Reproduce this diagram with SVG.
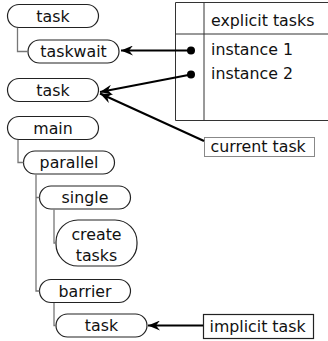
<svg xmlns="http://www.w3.org/2000/svg" width="328" height="341" viewBox="0 0 328 341">
<style>
text{font-family:"DejaVu Sans",sans-serif;font-size:15.8px;fill:#111}
.n{fill:#fff;stroke:#222;stroke-width:1.2}
.t{text-anchor:middle}
.tree{fill:none;stroke:#777;stroke-width:1.3}
.arr{fill:none;stroke:#000;stroke-width:2}
.tbl{fill:none;stroke:#333;stroke-width:1}
</style>
<defs>
<marker id="ah" viewBox="0 0 12 10" refX="12" refY="5" markerWidth="12" markerHeight="10" markerUnits="userSpaceOnUse" orient="auto">
<path d="M12,5 L0,0 L4,5 L0,10 Z" fill="#000"/>
</marker>
</defs>
<g id="table">
<path class="tbl" d="M328,2.5 H175.5 V120.5 H328" stroke="#555"/>
<path class="tbl" d="M175.5,34 H328 M204,2.5 V120.5" stroke="#666"/>
<text x="211" y="26">explicit tasks</text>
<text x="211" y="55">instance 1</text>
<text x="211" y="79">instance 2</text>
</g>
<g id="task1"><rect class="n" x="7.5" y="4.5" width="91" height="23" rx="11.5"/><text class="t" x="53" y="21.5">task</text></g>
<g id="taskwait"><rect class="n" x="28" y="40" width="91" height="23" rx="11.5"/><text class="t" x="73.5" y="57">taskwait</text></g>
<g id="task2"><rect class="n" x="7.5" y="78.5" width="91" height="23" rx="11.5"/><text class="t" x="53" y="95.5">task</text></g>
<g id="main"><rect class="n" x="7.5" y="116.5" width="91" height="23" rx="11.5"/><text class="t" x="53" y="133.5">main</text></g>
<g id="parallel"><rect class="n" x="23.5" y="151" width="91" height="23" rx="11.5"/><text class="t" x="69" y="168">parallel</text></g>
<g id="single"><rect class="n" x="39.5" y="186" width="91" height="23" rx="11.5"/><text class="t" x="85" y="203">single</text></g>
<g id="createtasks"><rect class="n" x="56" y="220" width="81" height="46" rx="22"/><text class="t" x="96.5" y="240">create</text><text class="t" x="96.5" y="261">tasks</text></g>
<g id="barrier"><rect class="n" x="39.5" y="279.5" width="91" height="23" rx="11.5"/><text class="t" x="85" y="296.5">barrier</text></g>
<g id="task3"><rect class="n" x="56" y="314" width="91" height="23" rx="11.5"/><text class="t" x="101.5" y="331">task</text></g>
<g id="currenttask"><rect x="204.5" y="137.5" width="110" height="19" fill="#fff" stroke="#888"/><text x="210.5" y="152">current task</text></g>
<g id="implicittask"><rect x="203.5" y="314.5" width="110" height="24" fill="#fff" stroke="#222" stroke-width="1.2"/><text x="209.5" y="331.5">implicit task</text></g>
<g id="connectors">
<path class="tree" d="M17.5,28 V51.5 H28"/>
<path class="tree" d="M18,140 V162.5 H23.5"/>
<path class="tree" d="M36,174.5 V197.5 H39.5 M36,197.5 V291 H39.5"/>
<path class="tree" d="M54,209.5 V243 H56"/>
<path class="tree" d="M54,303 V325.5 H56"/>
<path class="arr" d="M191,50.5 H121" marker-end="url(#ah)"/>
<path class="arr" d="M191,74.5 L100,92" marker-end="url(#ah)"/>
<path class="arr" d="M204,141 L100,93.5" marker-end="url(#ah)"/>
<path class="arr" d="M203,325.5 H148" marker-end="url(#ah)"/>
<circle cx="191" cy="50.5" r="4" fill="#000"/>
<circle cx="191" cy="74.5" r="4" fill="#000"/>
</g>
</svg>
